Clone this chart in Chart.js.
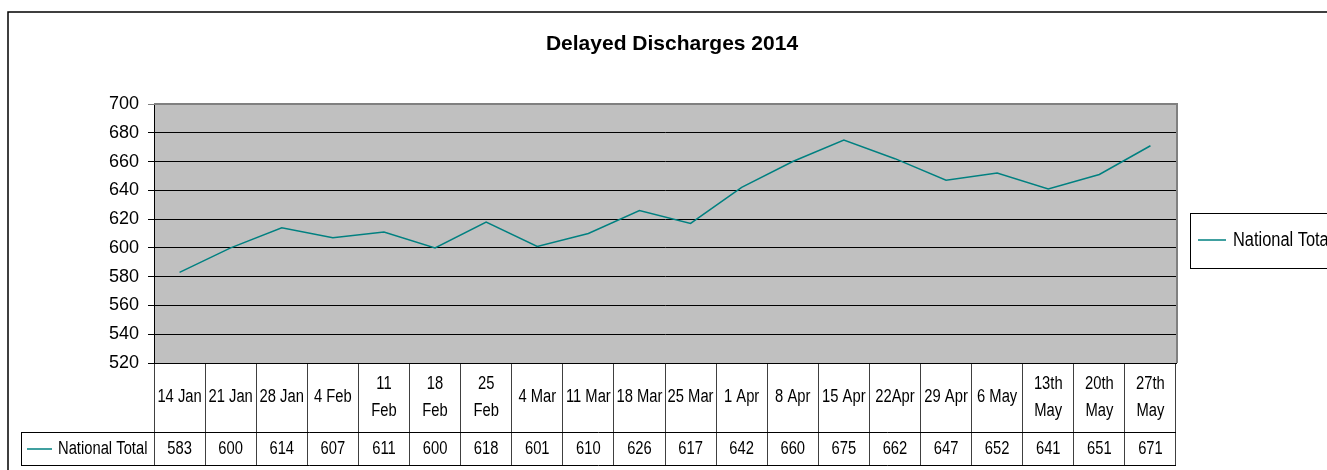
<!DOCTYPE html>
<html><head><meta charset="utf-8">
<script src="https://cdn.jsdelivr.net/npm/chart.js@4.4.1/dist/chart.umd.min.js"></script>
<style>html,body{margin:0;padding:0;background:#fff;overflow:hidden}canvas{display:block}</style>
</head><body>
<canvas id="c" width="1327" height="470"></canvas>
<script>
const titleText = 'Delayed Discharges 2014';
const seriesName = 'National Total';
const categories = ['14 Jan','21 Jan','28 Jan','4 Feb',['11','Feb'],['18','Feb'],['25','Feb'],'4 Mar','11 Mar','18 Mar','25 Mar','1 Apr','8 Apr','15 Apr','22Apr','29 Apr','6 May',['13th','May'],['20th','May'],['27th','May']];
const nationalTotal = [583,600,614,607,611,600,618,601,610,626,617,642,660,675,662,647,652,641,651,671];
const yMin = 520, yMax = 700, yStep = 20;

const TEAL = '#008080';
const canvas = document.getElementById('c');
const ctx0 = canvas.getContext('2d');
function hasFont(name){
  ctx0.font = '18px "' + name + '", monospace';
  const a = ctx0.measureText('National Total abc 123').width;
  ctx0.font = '18px monospace';
  const b = ctx0.measureText('National Total abc 123').width;
  return Math.abs(a - b) > 0.5;
}
const hasNarrow = hasFont('Liberation Sans Narrow');
function narrowText(ctx, text, x, y, size, align){
  ctx.save();
  ctx.textAlign = align; ctx.textBaseline = 'middle'; ctx.fillStyle = '#000';
  if (hasNarrow){
    ctx.font = size + 'px "Liberation Sans Narrow"';
    ctx.fillText(text, x, y);
  } else {
    ctx.translate(x, y); ctx.scale(0.82, 1);
    ctx.font = size + 'px "Liberation Sans", Arial, sans-serif';
    ctx.fillText(text, 0, 0);
  }
  ctx.restore();
}

const tablePlugin = {
  id: 'tablePlugin',
  beforeDraw(chart){
    const c = chart.ctx, a = chart.chartArea;
    c.save();
    c.fillStyle = '#fff'; c.fillRect(0, 0, chart.width, chart.height);
    c.fillStyle = '#C0C0C0'; c.fillRect(a.left, a.top, a.right - a.left, a.bottom - a.top);
    c.restore();
  },
  afterDraw(chart){
    const c = chart.ctx, a = chart.chartArea, xs = chart.scales.x;
    const rowTop = 432, rowBot = 465;
    c.save();
    // outer frame
    c.strokeStyle = '#000'; c.lineWidth = 1.5;
    c.beginPath(); c.moveTo(8, chart.height); c.lineTo(8, 12); c.lineTo(chart.width, 12); c.stroke();
    // plot top/right border
    c.strokeStyle = '#808080'; c.lineWidth = 2;
    c.beginPath(); c.moveTo(a.left, a.top); c.lineTo(a.right + 1, a.top); c.lineTo(a.right + 1, a.bottom); c.stroke();
    // title
    c.fillStyle = '#000'; c.font = 'bold 21px "Liberation Sans", Arial, sans-serif';
    c.textAlign = 'center'; c.textBaseline = 'middle';
    c.fillText(titleText, 672, 44);
    // table horizontal lines
    c.strokeStyle = '#000'; c.lineWidth = 1;
    c.beginPath();
    c.moveTo(21, rowTop + 0.5); c.lineTo(a.right, rowTop + 0.5);
    c.moveTo(21, rowBot + 0.5); c.lineTo(a.right, rowBot + 0.5);
    c.moveTo(21.5, rowTop); c.lineTo(21.5, rowBot);
    c.stroke();
    // category labels and values
    categories.forEach((lab, i) => {
      const x = xs.getPixelForValue(i);
      if (Array.isArray(lab)){
        narrowText(c, lab[0], x, 384, 18, 'center');
        narrowText(c, lab[1], x, 411, 18, 'center');
      } else {
        narrowText(c, lab, x, 397, 18, 'center');
      }
      narrowText(c, String(nationalTotal[i]), x, 449, 18, 'center');
    });
    // row header
    c.strokeStyle = TEAL; c.lineWidth = 1.5;
    c.beginPath(); c.moveTo(27, 449); c.lineTo(52, 449); c.stroke();
    narrowText(c, seriesName, 58, 449, 18, 'left');
    // legend
    c.strokeStyle = '#000'; c.lineWidth = 1;
    c.strokeRect(1190.5, 213.5, 200, 55);
    c.strokeStyle = TEAL; c.lineWidth = 1.5;
    c.beginPath(); c.moveTo(1198, 240); c.lineTo(1226, 240); c.stroke();
    narrowText(c, seriesName, 1233, 240, 20, 'left');
    c.restore();
  }
};

new Chart(canvas, {
  type: 'line',
  data: {
    labels: categories.map(l => Array.isArray(l) ? l.join(' ') : l),
    datasets: [{
      label: seriesName,
      data: nationalTotal,
      borderColor: TEAL,
      borderWidth: 1.5,
      pointRadius: 0,
      fill: false,
      tension: 0
    }]
  },
  options: {
    responsive: false,
    animation: false,
    layout: { padding: { top: 104, right: 151, left: 0, bottom: 0 } },
    plugins: { legend: { display: false }, title: { display: false }, tooltip: { enabled: false } },
    scales: {
      x: {
        type: 'category',
        offset: true,
        afterFit(s){ s.height = 107; },
        grid: { display: true, drawOnChartArea: false, drawTicks: true, tickLength: 102, color: '#404040', lineWidth: 1, offset: true },
        border: { display: true, color: '#000', width: 1 },
        ticks: { display: false }
      },
      y: {
        min: yMin, max: yMax,
        afterFit(s){ s.width = 154; },
        grid: { color: (ctx) => (ctx.tick && ctx.tick.value === yMax) ? '#808080' : '#000', lineWidth: 1, tickLength: 6, drawTicks: true },
        border: { display: true, color: '#000', width: 1 },
        ticks: { stepSize: yStep, color: '#000', padding: 9, font: { family: '"Liberation Sans", Arial, sans-serif', size: 18 } }
      }
    }
  },
  plugins: [tablePlugin]
});
</script>
</body></html>
